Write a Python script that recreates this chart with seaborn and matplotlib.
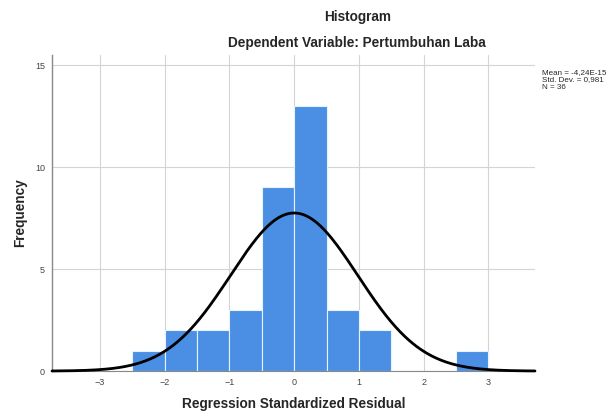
import matplotlib
matplotlib.use("Agg")
import matplotlib.pyplot as plt
import numpy as np
import pandas as pd
import seaborn as sns

# values
bin_left = [-2.5, -2.0, -1.5, -1.0, -0.5, 0.0, 0.5, 1.0, 1.5, 2.0, 2.5]
counts = [1, 2, 2, 3, 9, 13, 3, 2, 0, 0, 1]
bin_width = 0.5
mean_val = 0.0
std_val = 0.981
n_obs = 36
curve_peak = 7.75
x_ticks = [-3, -2, -1, 0, 1, 2, 3]
y_ticks = [0, 5, 10, 15]

df = pd.DataFrame({'resid': np.array(bin_left) + bin_width / 2, 'count': counts})
edges = list(bin_left) + [bin_left[-1] + bin_width]

sns.set_style('white')
plt.rcParams['font.family'] = ['Liberation Sans', 'DejaVu Sans']

fig = plt.figure(figsize=(6.14, 4.16), dpi=100)
ax = fig.add_axes([0.0847, 0.108, 0.7866, 0.76])

ax.set_xlim(-3.74, 3.72)
ax.set_ylim(0, 15.5)
ax.set_xticks(x_ticks)
ax.set_yticks(y_ticks)
ax.grid(True, color='#d4d4d4', linewidth=0.8)
ax.set_axisbelow(True)

sns.histplot(data=df, x='resid', weights='count', bins=edges, ax=ax,
             color='#4a8fe3', alpha=1.0, edgecolor='#e8f2ff', linewidth=0.8)

xs = np.linspace(-3.74, 3.72, 400)
ys = curve_peak * np.exp(-(xs - mean_val) ** 2 / (2 * std_val ** 2))
ax.plot(xs, ys, color='black', linewidth=2.0, zorder=5, clip_on=False)

for s in ['top', 'right']:
    ax.spines[s].set_visible(False)
ax.spines['left'].set_color('#888888')
ax.spines['left'].set_linewidth(1.0)
ax.spines['bottom'].set_color('#888888')
ax.tick_params(axis='both', length=0, labelsize=6.5, colors='#444444', pad=5)

ax.set_xlabel('Regression Standardized Residual', fontsize=9.8, fontweight='bold', labelpad=7)
ax.set_ylabel('Frequency', fontsize=9.8, fontweight='bold', labelpad=6)

fig.text(0.582, 0.959, 'Histogram', ha='center', va='center', fontsize=9.8, fontweight='bold')
fig.text(0.582, 0.897, 'Dependent Variable: Pertumbuhan Laba', ha='center', va='center',
         fontsize=9.8, fontweight='bold')
fig.text(0.883, 0.835,
         'Mean = -4,24E-15\nStd. Dev. = 0,981\nN = %d' % n_obs,
         ha='left', va='top', fontsize=5.8, linespacing=1.1)

fig.savefig('out.png', dpi=100, facecolor='white')
